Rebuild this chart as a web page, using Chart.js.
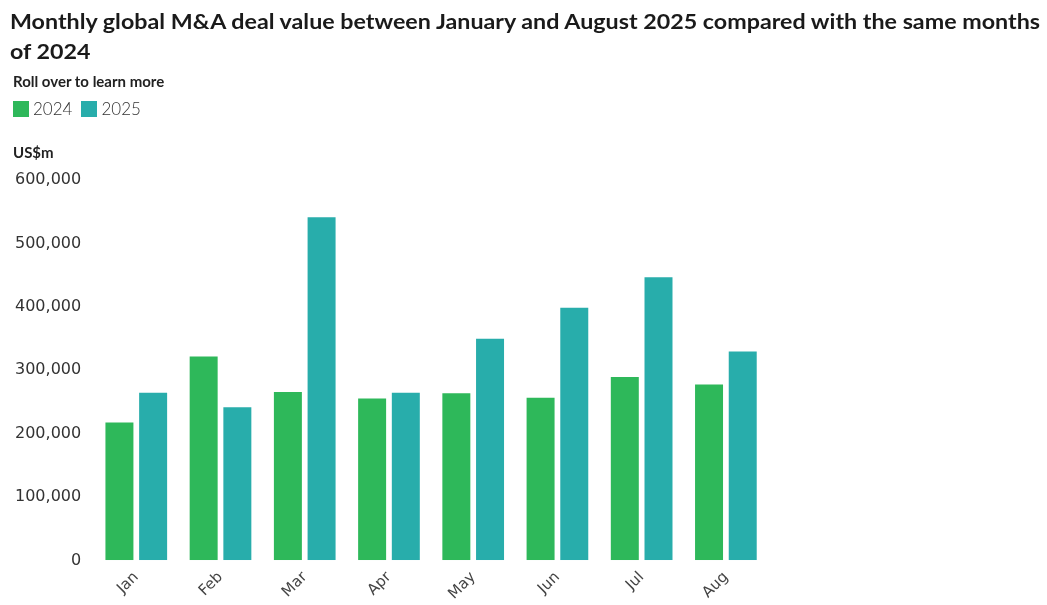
<!DOCTYPE html>
<html>
<head>
<meta charset="utf-8">
<script src="https://cdn.jsdelivr.net/npm/chart.js@4"></script>
<style>
  html, body { margin: 0; padding: 0; background: #fff; overflow: hidden; }
  #wrap { width: 1047px; height: 605px; position: relative; }
  canvas { display: block; position: absolute; left: 0; top: 0; }
  #title { position: absolute; left: 10px; top: 6px; font-family: "Liberation Sans Narrow", Lato, sans-serif;
           font-weight: bold; font-size: 21px; line-height: 30px; color: #1a1a1a; white-space: nowrap; transform-origin: 0 0; }
  #subtitle { position: absolute; left: 13px; top: 71px; font-family: Lato, sans-serif; font-weight: bold;
              font-size: 15px; line-height: 20px; color: #222; white-space: nowrap; }
  #legend { position: absolute; left: 13px; top: 99px; font-family: Lato, sans-serif; font-weight: 300;
            font-size: 17px; line-height: 20px; color: #333; display: flex; }
  #legend .item { display: flex; align-items: center; margin-right: 9px; }
  #legend .sw { width: 16px; height: 16px; margin-right: 4px; }
</style>
</head>
<body>
<div id="wrap">
  <canvas id="c" width="1047" height="605"></canvas>
  <div id="title"></div>
  <div id="subtitle"></div>
  <div id="legend"></div>
</div>
<script>
const months = ['Jan', 'Feb', 'Mar', 'Apr', 'May', 'Jun', 'Jul', 'Aug'];
const values2024 = [219000, 323000, 267000, 257000, 265000, 258000, 291000, 279000];
const values2025 = [266000, 243000, 543000, 266000, 351000, 400000, 448000, 331000];
const yTicks = [0, 100000, 200000, 300000, 400000, 500000, 600000];
const seriesNames = ['2024', '2025'];
const seriesColors = ['#2eb85a', '#28adab'];
const titleLines = ['Monthly global M&A deal value between January and August 2025 compared with the same months', 'of 2024'];
const subtitleText = 'Roll over to learn more';
const unitLabel = 'US$m';

const titleEl = document.getElementById('title');
titleLines.forEach((t, i) => {
  const s = document.createElement('div');
  s.textContent = t;
  s.style.display = 'inline-block';
  titleEl.appendChild(s);
  if (i < titleLines.length - 1) titleEl.appendChild(document.createElement('br'));
});
const firstW = titleEl.firstChild.getBoundingClientRect().width;
titleEl.style.transform = 'scaleX(' + (1030 / firstW) + ')';
document.getElementById('subtitle').textContent = subtitleText;

const unitPlugin = {
  id: 'unitLabel',
  afterDraw(chart) {
    const ctx = chart.ctx;
    ctx.save();
    ctx.font = 'bold 15px Lato, "DejaVu Sans", sans-serif';
    ctx.fillStyle = '#222';
    ctx.textAlign = 'left';
    ctx.textBaseline = 'middle';
    ctx.fillText(unitLabel, 13, chart.chartArea.top - 27);
    ctx.restore();
  }
};

const chart = new Chart(document.getElementById('c'), {
  type: 'bar',
  data: {
    labels: months,
    datasets: [
      { label: seriesNames[0], data: values2024, backgroundColor: seriesColors[0], borderColor: 'rgba(255,255,255,0.35)', borderWidth: 1 },
      { label: seriesNames[1], data: values2025, backgroundColor: seriesColors[1], borderColor: 'rgba(255,255,255,0.35)', borderWidth: 1 }
    ]
  },
  options: {
    responsive: false,
    animation: false,
    devicePixelRatio: 1,
    layout: { padding: { left: 2, right: 279, top: 180, bottom: -6 } },
    datasets: { bar: { categoryPercentage: 0.8, barPercentage: 0.89 } },
    plugins: { legend: { display: false }, tooltip: { enabled: true } },
    scales: {
      x: {
        grid: { display: false, drawTicks: false },
        border: { display: false },
        ticks: { color: '#444', maxRotation: 45, minRotation: 45, padding: 8,
          font: { family: '"DejaVu Sans", sans-serif', size: 15 } }
      },
      y: {
        min: 0, max: 600000,
        afterBuildTicks(axis) { axis.ticks = yTicks.map(v => ({ value: v })); },
        grid: { display: false, drawTicks: false },
        border: { display: false },
        ticks: { color: '#333', padding: 13,
          font: { family: '"DejaVu Sans", sans-serif', size: 16 },
          callback: v => v.toLocaleString('en-US') }
      }
    }
  },
  plugins: [unitPlugin]
});

const legendEl = document.getElementById('legend');
chart.data.datasets.forEach(ds => {
  const it = document.createElement('div'); it.className = 'item';
  const sw = document.createElement('div'); sw.className = 'sw'; sw.style.background = ds.backgroundColor;
  const tx = document.createElement('span'); tx.textContent = ds.label;
  it.appendChild(sw); it.appendChild(tx); legendEl.appendChild(it);
});
</script>
</body>
</html>
